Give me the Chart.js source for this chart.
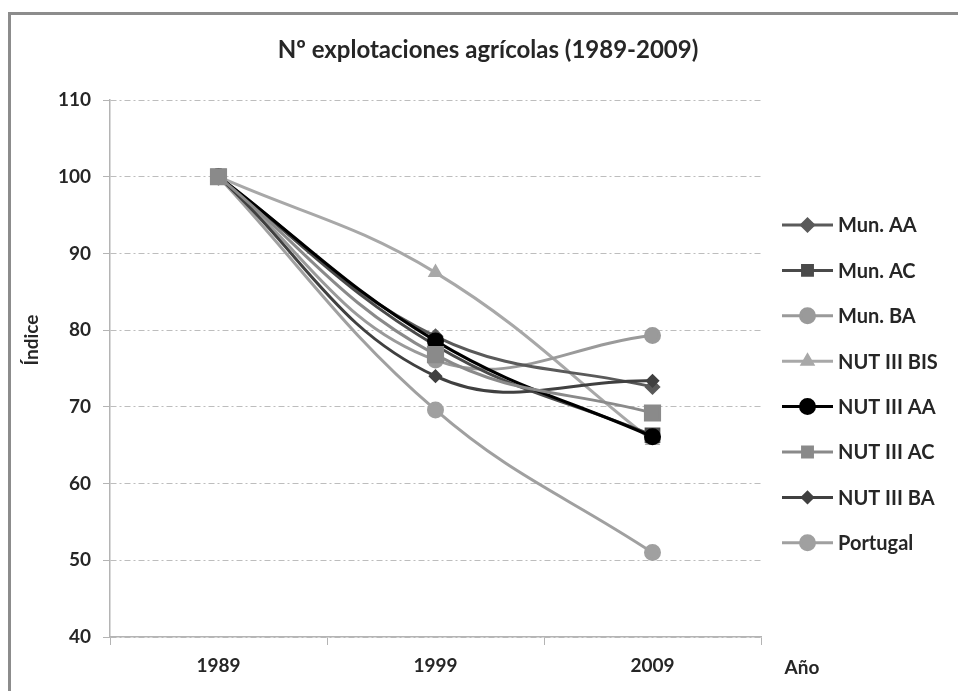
<!DOCTYPE html>
<html>
<head>
<meta charset="utf-8">
<script src="https://cdn.jsdelivr.net/npm/chart.js@4/dist/chart.umd.min.js"></script>
<style>
  body { margin: 0; background: #fff; }
  #wrap { width: 958px; height: 691px; position: relative; }
</style>
</head>
<body>
<div id="wrap"><canvas id="chart"></canvas></div>
<script>
// data
const years = ['1989', '1999', '2009'];
const seriesNames = ['Mun. AA', 'Mun. AC', 'Mun. BA', 'NUT III BIS', 'NUT III AA', 'NUT III AC', 'NUT III BA', 'Portugal'];
const munAA = [100, 79.2, 72.6];
const munAC = [100, 78.0, 66.3];
const munBA = [100, 76.1, 79.3];
const nutBIS = [100, 87.5, 65.6];
const nutAA = [100, 78.6, 66.1];
const nutAC = [100, 76.8, 69.2];
const nutBA = [100, 74.0, 73.4];
const portugal = [100, 69.6, 51.0];
const yTicks = [40, 50, 60, 70, 80, 90, 100, 110];

const seriesData = [munAA, munAC, munBA, nutBIS, nutAA, nutAC, nutBA, portugal];
const colors = ['#5a5a5a', '#4a4a4a', '#9a9a9a', '#a8a8a8', '#000000', '#8a8a8a', '#404040', '#a0a0a0'];
const markers = ['rectRot', 'rect', 'circle', 'triangle', 'circle', 'rect', 'rectRot', 'circle'];
const radii = [6, 9, 7, 6, 7, 10, 5, 7];
// drawing order: lower is drawn on top
const drawOrder = [5, 4, 6, 7, 1, 0, 3, 8];

const FONT = 'Lato, "Open Sans", sans-serif';
const TXT = '#262626';

// frame, title, axis captions and legend drawn by hand
const decor = {
    id: 'decor',
    beforeDraw(chart) {
        const ctx = chart.ctx;
        ctx.save();
        ctx.fillStyle = '#fff';
        ctx.fillRect(0, 0, chart.width, chart.height);
        ctx.strokeStyle = '#8c8c8c';
        ctx.lineWidth = 3;
        ctx.beginPath();
        ctx.moveTo(9.5, chart.height);
        ctx.lineTo(9.5, 13.5);
        ctx.lineTo(chart.width, 13.5);
        ctx.stroke();
        ctx.restore();
    },
    afterDraw(chart) {
        const ctx = chart.ctx;
        ctx.save();
        ctx.fillStyle = TXT;
        ctx.textBaseline = 'middle';
        ctx.textAlign = 'center';
        ctx.font = 'bold 24px ' + FONT;
        ctx.fillText('Nº explotaciones agrícolas (1989-2009)', 488, 50);

        ctx.font = 'bold 19px ' + FONT;
        ctx.fillText('Año', 802, 668);

        ctx.save();
        ctx.translate(32, 340);
        ctx.rotate(-Math.PI / 2);
        ctx.fillText('Índice', 0, 0);
        ctx.restore();

        // legend: line sample with marker, as in the original
        ctx.textAlign = 'left';
        ctx.font = 'bold 20px ' + FONT;
        chart.data.datasets.forEach(function(ds, i) {
            let y = 225 + i * 45.4;
            ctx.strokeStyle = ds.borderColor;
            ctx.lineWidth = 3;
            ctx.beginPath();
            ctx.moveTo(782, y);
            ctx.lineTo(833, y);
            ctx.stroke();
            ctx.fillStyle = ds.borderColor;
            ctx.strokeStyle = ds.borderColor;
            Chart.helpers.drawPoint(ctx, {
                pointStyle: ds.pointStyle,
                radius: Math.min(ds.pointRadius, 7),
                rotation: 0,
                borderWidth: 1
            }, 807.5, y);
            ctx.fillStyle = TXT;
            ctx.fillText(ds.label, 838, y + 1);
        });
        ctx.restore();
    }
};

const datasets = seriesNames.map(function(name, i) {
    return {
        label: name,
        data: seriesData[i],
        borderColor: colors[i],
        backgroundColor: colors[i],
        pointBackgroundColor: colors[i],
        pointBorderColor: colors[i],
        pointStyle: markers[i],
        pointRadius: radii[i],
        borderWidth: 3,
        tension: 0.4,
        order: drawOrder[i]
    };
});

new Chart(document.getElementById('chart'), {
    type: 'line',
    data: { labels: years, datasets: datasets },
    plugins: [decor],
    options: {
        responsive: true,
        maintainAspectRatio: false,
        animation: false,
        layout: { padding: { left: 0, top: 100, right: 197, bottom: 0 } },
        plugins: {
            legend: { display: false },
            title: { display: false },
            tooltip: { enabled: false }
        },
        scales: {
            x: {
                offset: true,
                afterFit: function(s) { s.height = 54; },
                grid: {
                    offset: true,
                    drawOnChartArea: false,
                    tickLength: 8,
                    color: '#b4b4b4'
                },
                border: { color: '#b4b4b4', width: 1.5 },
                ticks: { color: TXT, padding: 9, font: { family: FONT, size: 19, weight: 'bold' } }
            },
            y: {
                min: 40,
                max: 110,
                afterFit: function(s) { s.width = 110; },
                afterBuildTicks: function(s) { s.ticks = yTicks.map(v => ({ value: v })); },
                grid: {
                    color: '#bdbdbd',
                    tickLength: 7,
                    tickColor: '#b4b4b4',
                    tickBorderDash: []
                },
                border: { color: '#b4b4b4', width: 1.5, dash: [6, 3, 2, 3] },
                ticks: { color: TXT, padding: 12, font: { family: FONT, size: 19, weight: 'bold' } }
            }
        }
    }
});
</script>
</body>
</html>
